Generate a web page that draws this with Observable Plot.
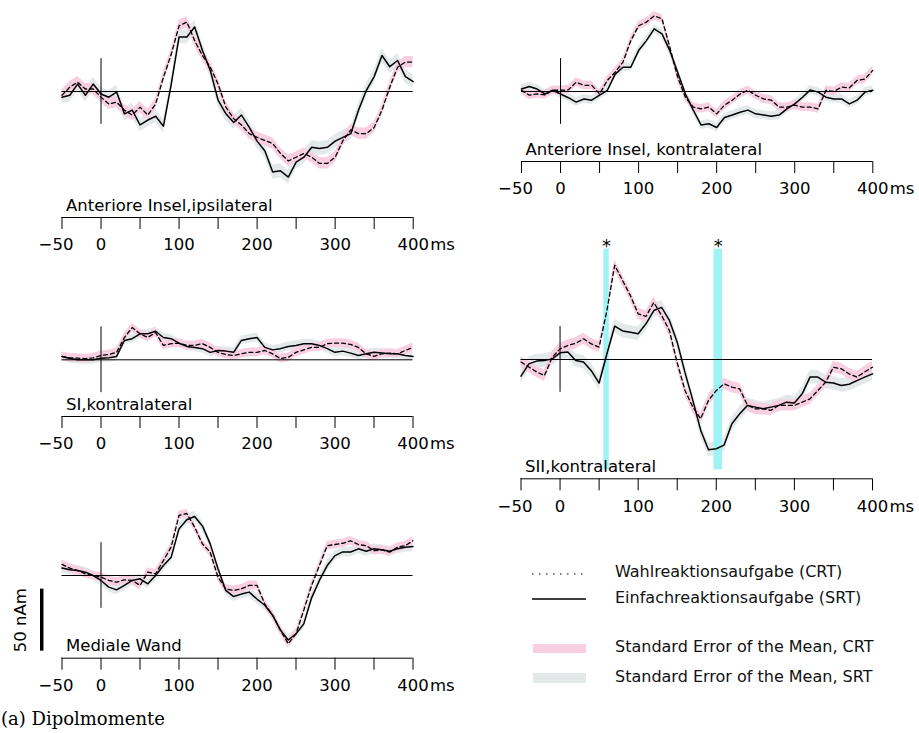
<!DOCTYPE html>
<html><head><meta charset="utf-8">
<script src="https://cdn.jsdelivr.net/npm/d3@7"></script>
<script src="https://cdn.jsdelivr.net/npm/@observablehq/plot@0.6"></script>
<style>
body{margin:0;background:#fff;}
#wrap{position:relative;width:919px;height:733px;overflow:hidden;font-family:"DejaVu Sans";color:#000;}
#wrap svg{position:absolute;left:0;top:0;}
.lg{position:absolute;left:615px;font:16px "DejaVu Sans";line-height:20px;white-space:nowrap;color:#111;}
.cap{position:absolute;left:1px;top:710px;font:18px "DejaVu Serif";line-height:18px;white-space:nowrap;}
</style></head><body>
<div id="wrap">
  <svg width="919" height="733" style="position:absolute;left:0;top:0">
    <line x1="532" x2="586" y1="574" y2="574" stroke="#000" stroke-width="1.2" stroke-dasharray="1.5,5.5"/>
    <line x1="532" x2="586" y1="599" y2="599" stroke="#000" stroke-width="1.3"/>
    <rect x="533" y="644" width="53" height="9" fill="#f8cfe0"/>
    <rect x="533" y="673" width="53" height="10" fill="#e3e9e9"/>
  </svg>
  <div class="lg" style="top:562px">Wahlreaktionsaufgabe (CRT)</div>
  <div class="lg" style="top:588px">Einfachreaktionsaufgabe (SRT)</div>
  <div class="lg" style="top:637px">Standard Error of the Mean, CRT</div>
  <div class="lg" style="top:667px">Standard Error of the Mean, SRT</div>
  <div class="cap">(a) Dipolmomente</div>
</div>
<script>
// ---- data (nAm) ----
const times = [-50,-40,-30,-20,-10,0,10,20,30,40,50,60,70,80,90,100,110,120,130,140,150,160,170,180,190,200,210,220,230,240,250,260,270,280,290,300,310,320,330,340,350,360,370,380,390,400];

const insIpsiSRT = [-4.6,-3,6,-3,6,-2,-4.6,-0.5,-18,-15,-27,-23,-20,-28,6,44,44,52,33,17,-7,-18,-25,-19,-29,-40,-48,-65,-64,-69,-57,-53,-45,-46,-45,-40,-37,-34,-15,1,12,29,20,25,12,8];
const insIpsiCRT = [-3,3.5,7.5,2,2,-4.6,-10,-8.6,-15,-19,-12.6,-19,-10,11.5,30,53,56,41,29,19.6,6,-12.6,-22,-27,-34,-37,-39.5,-42,-50,-56,-53,-50,-53,-58,-58,-53,-39.5,-31,-34,-34,-29,-15,3.5,19.6,23.7,23.7];

const insKontraSRT = [2,4,2,-2,1,-2,-5,-8.6,-6,-7,-3,1,14,19.6,19.6,33,41,50.5,46.5,33,15.6,-2,-15,-27,-26,-29,-21,-19,-16.7,-15,-18,-19,-20,-19,-14,-10,-4.6,1.3,-0.5,-4.6,-6,-6,-10,-7,-0.5,1];
const insKontraCRT = [1,-3,-2,-2.7,1,1,1.3,7.5,5,5,-2,9,15.6,23.7,41,53,56,61,58.6,35.7,11.6,-4.6,-12.6,-14,-12.6,-18,-11,-7,-2,1,-3,-6,-7,-12.6,-12.6,-11,-12.6,-12.6,-14,1,0,3.5,3,9,10,17];

const siSRT = [2.7,1,0,0,0,1.3,1.6,2.7,15.6,17,21,21,23,18,17,13.4,10.8,10,9,6,7.5,7,6,15.6,17,18,10,8,9,10.8,11.6,13,13,11.6,9,6,7,5.4,3.5,4.8,6,5.4,4.8,4.8,3.5,2.7];
const siCRT = [2.7,1.6,1.3,1,1.6,3.5,4.3,6,18,26,21,18,22,11.6,13,13.4,11.6,11.6,13,10,6,4.3,3.5,4.8,6,6,7.5,4.8,1,2,6,8,10,10,13,13.4,13.4,12.4,10,4.8,2.7,4.8,5.4,4.8,7.5,10];

const medSRT = [6,4.6,4,2.7,0,-4,-9.4,-11.6,-8,-4,-2.7,-6.7,0,8,14.8,37.6,45,47.6,40,25.5,5.4,-12,-17,-15,-13.4,-19,-24,-32,-44,-52,-47,-39,-18,-4,8,16,19,19,21.5,19.6,21.5,20.7,19.6,21.5,22.8,23.4];
const medCRT = [8.9,6,4,1.3,0,-1.3,-4,-5.4,-3.5,-4,-8,2.7,1.3,12,23,48.4,50,39,25.5,18.8,-1.3,-10.8,-12,-10.8,-8,-8,-23,-32,-44,-55,-47,-28,-8,8,24,25,26,28,25,24,20,20.7,18.8,22.8,24,28];

const siiSRT = [-13.4,-3.5,-1.3,-0.8,0.5,5.4,6,-0.8,-2,-9,-19,4.6,27,23,22,20.7,28.8,39.5,42,31.5,14,-10.6,-33,-57,-72.8,-72,-69,-51.8,-43.8,-37,-38.4,-39.8,-38.4,-37,-34.4,-35,-27.7,-14.2,-14.2,-18.3,-19,-21,-20,-17,-14.2,-11.6];
const siiCRT = [-2,-6,-10,-13,1.9,8.6,11.3,13,16.7,12.6,10,39.5,76,63.7,51.6,36.8,34.7,46,35.5,23.4,-2.7,-25,-38.4,-47.8,-33,-25,-19.6,-22.3,-23.7,-37,-39.8,-39.8,-41,-37,-37,-37,-34.4,-31.7,-25,-18.3,-6.2,-7.5,-11.6,-14.2,-10,-6.2];

const panelNames = ["Anteriore Insel,ipsilateral", "Anteriore Insel, kontralateral", "SI,kontralateral", "Mediale Wand", "SII,kontralateral"];
const semCRT = [4.5, 3.5, 3.5, 3.5, 4.5];
const semSRT = [5.5, 3.5, 3.5, 4, 5.5];
const xTickValues = [-50,0,50,100,150,200,250,300,350,400];
const xTickLabels = [-50,0,100,200,300,400];
const sigWindows = [[56,63],[197,208]];   // significant intervals (ms), SII
const sigExtent = 89;                       // nAm, half height of the marker bars
const stimLine = 26.5;                      // nAm, half height of t=0 marker
const scaleBar = {x: -76, from: -61, to: -11, label: "50 nAm"};

// ---- layout (pixels) ----
const K = 1.24; // px per nAm
const layout = [
  {xl: 61.5, xr: 412.7, base: 91,    axis: 217},
  {xl: 521,  xr: 872.3, base: 91,    axis: 161},
  {xl: 61.5, xr: 412.5, base: 359.3, axis: 416},
  {xl: 61.5, xr: 412.5, base: 575,   axis: 657.7},
  {xl: 520.5, xr: 872,  base: 359,   axis: 478.3}
];
const series = [[insIpsiCRT, insIpsiSRT],[insKontraCRT, insKontraSRT],[siCRT, siSRT],[medCRT, medSRT],[siiCRT, siiSRT]];

const fmt = d => d < 0 ? "\u2212" + Math.abs(d) : String(d);
const wrap = document.getElementById("wrap");

series.forEach(([crt, srt], i) => {
  const L = layout[i];
  const data = times.map((t, j) => ({t, crt: crt[j], srt: srt[j]}));
  const lo = -(L.axis - L.base) / K, hi = L.base / K;
  const marks = [
    Plot.areaY(data, {x: "t", y1: d => d.srt - semSRT[i], y2: d => d.srt + semSRT[i], fill: "#e3e9e9"}),
    Plot.areaY(data, {x: "t", y1: d => d.crt - semCRT[i], y2: d => d.crt + semCRT[i], fill: "#f8cfe0"})
  ];
  if (i === 4) {
    marks.push(Plot.rect(sigWindows, {x1: d => d[0], x2: d => d[1], y1: -sigExtent, y2: sigExtent, fill: "#9ff3f7"}));
    marks.push(Plot.text(sigWindows, {x: d => (d[0] + d[1]) / 2, y: 91, text: () => "*", fontSize: 18}));
  }
  if (i === 3) {
    marks.push(Plot.ruleX([scaleBar], {x: d => d.x, y1: d => d.from, y2: d => d.to, stroke: "black", strokeWidth: 3.5}));
    marks.push(Plot.text([scaleBar], {x: -103, y: d => (d.from + d.to) / 2, text: d => d.label, rotate: -90, fontSize: 16.5}));
  }
  marks.push(
    Plot.ruleY([0], {stroke: "black", strokeWidth: 1}),
    Plot.ruleX([0], {y1: -stimLine, y2: stimLine, stroke: "black", strokeWidth: 1}),
    Plot.lineY(data, {x: "t", y: "crt", stroke: "black", strokeWidth: 1.3, strokeDasharray: "4,3"}),
    Plot.lineY(data, {x: "t", y: "srt", stroke: "black", strokeWidth: 1.5}),
    Plot.ruleY([lo], {stroke: "black", strokeWidth: 1}),
    Plot.axisX({ticks: xTickValues, tickSize: 12, tickFormat: () => "", label: null}),
    Plot.text(xTickLabels.filter(d => d >= 0), {x: d => d, text: fmt, frameAnchor: "bottom", dy: 21, lineAnchor: "top", fontSize: 16.5}),
    Plot.text(xTickLabels.filter(d => d < 0), {x: d => d, text: fmt, frameAnchor: "bottom", dx: -6, dy: 21, lineAnchor: "top", fontSize: 16.5}),
    Plot.text(["ms"], {text: d => d, frameAnchor: "bottom-right", dx: 17, dy: 21, lineAnchor: "top", textAnchor: "start", fontSize: 16.5}),
    Plot.text([panelNames[i]], {text: d => d, frameAnchor: "bottom-left", dx: 4, dy: -7, lineAnchor: "bottom", textAnchor: "start", fontSize: 16.5})
  );
  const svg = Plot.plot({
    width: 919, height: 733,
    marginLeft: L.xl, marginRight: 919 - L.xr, marginTop: 0, marginBottom: 733 - L.axis,
    x: {domain: [-50, 400], label: null},
    y: {domain: [lo, hi], axis: null},
    style: {background: "transparent", fontFamily: "DejaVu Sans", fontSize: "16.5px", color: "black", overflow: "visible"},
    marks
  });
  wrap.appendChild(svg);
});
</script>
</body></html>
